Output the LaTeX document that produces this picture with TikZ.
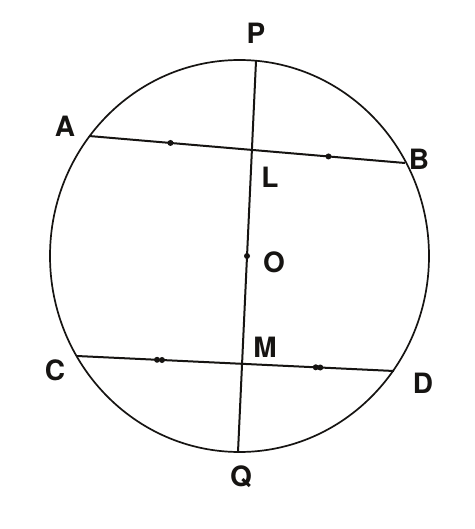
\documentclass[tikz,border=0pt]{standalone}
\usepackage{fontspec}
\setsansfont{TeX Gyre Heros}
\usepackage{tikz}
\tikzstyle{sheet} = [x = 1pt, y = -1pt]
\definecolor{inkColor}{RGB}{22,20,18}
\tikzstyle{circleLine} = [color=inkColor, line width=1.7pt]
\tikzstyle{chordLine} = [color=inkColor, line width=2pt]
\tikzstyle{pointLabel} = [font=\fontsize{28}{28}\sffamily\bfseries, text=inkColor, inner sep=0pt]
\tikzstyle{tickDot} = [circle, fill=inkColor, inner sep=0pt, minimum size=6pt]
\newcommand{\singleTick}[2]{\path (#1) -- (#2) node [tickDot, pos=.5] {};}
\newcommand{\doubleTick}[2]{\path (#1) -- (#2) node [tickDot, pos=.485] {} node [tickDot, pos=.515] {};}
\begin{document}
\begin{tikzpicture}[sheet]
  \useasboundingbox [fill=white] (0,0) rectangle (474,529);
  \draw [circleLine] (239.5,256) ellipse [x radius=189.5, y radius=196];

  \coordinate (A) at (89,136);
  \coordinate (B) at (405,163);
  \coordinate (C) at (77,356);
  \coordinate (D) at (394,371);
  \coordinate (P) at (256,61);
  \coordinate (Q) at (238,452);
  \coordinate (L) at (intersection of A--B and P--Q);
  \coordinate (M) at (intersection of C--D and P--Q);
  \coordinate (O) at (247,256);

  \draw [chordLine] (P) -- (Q);
  \draw [chordLine] (A) -- (B);
  \draw [chordLine] (C) -- (D);

  \singleTick{A}{L}
  \singleTick{L}{B}
  \doubleTick{C}{M}
  \doubleTick{M}{D}
  \node [tickDot] (centre) at (O) {};

  \node [pointLabel] (labelP) at (256,33) {P};
  \node [pointLabel] (labelA) at (65,126) {A};
  \node [pointLabel] (labelB) at (419,159) {B};
  \node [pointLabel] (labelL) at (270,177) {L};
  \node [pointLabel] (labelO) at (274,262) {O};
  \node [pointLabel] (labelM) at (265,347) {M};
  \node [pointLabel] (labelC) at (55,370) {C};
  \node [pointLabel] (labelD) at (423,383) {D};
  \node [pointLabel] (labelQ) at (241,477) {Q};
\end{tikzpicture}
\end{document}
